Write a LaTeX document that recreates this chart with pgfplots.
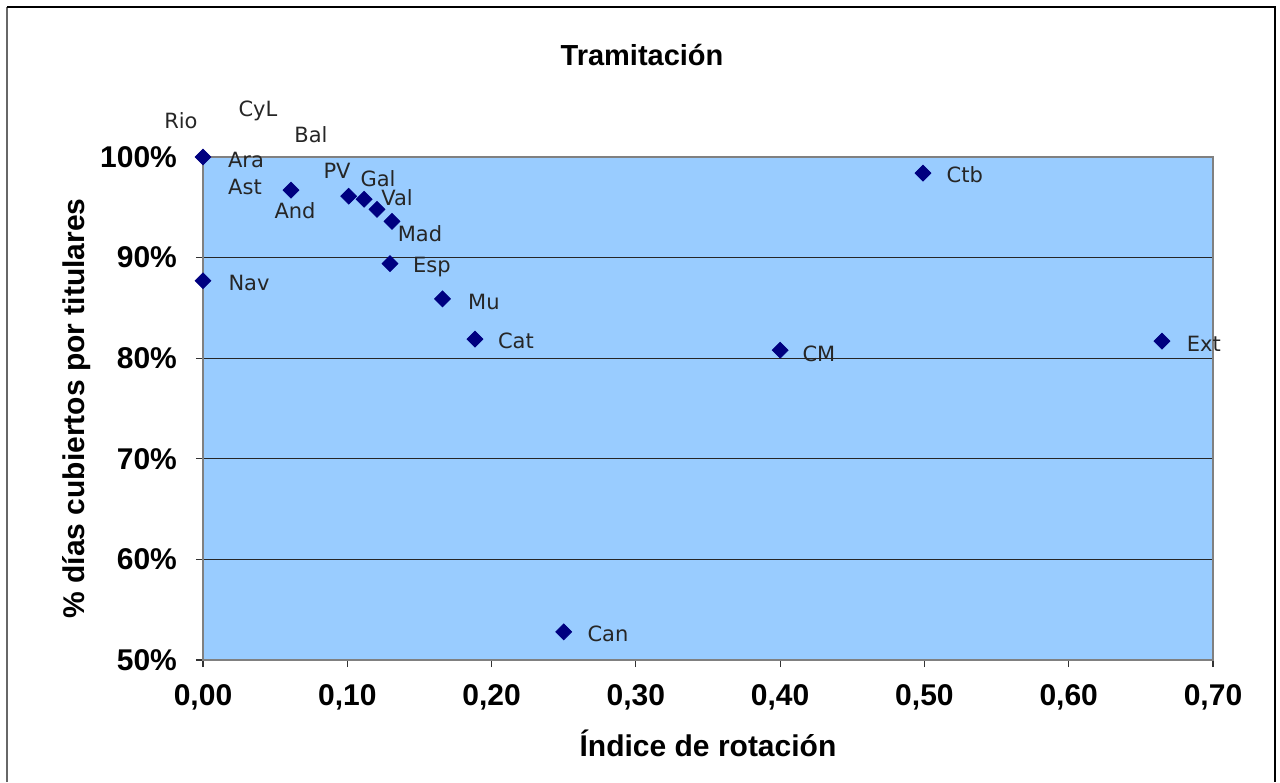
\documentclass[border=0pt]{standalone}
\usepackage{fontspec}
\setmainfont{Liberation Sans}
\newfontfamily\lblfont{DejaVu Sans}
\usepackage{pgfplots}
\pgfplotsset{compat=1.18}
\definecolor{plotbg}{HTML}{99CCFF}
\definecolor{navymk}{HTML}{000080}
\definecolor{axgray}{HTML}{808080}
\begin{document}
\begin{tikzpicture}[x=1pt,y=1pt]
\path[use as bounding box] (0,0) rectangle (640,391);
\draw[axgray!80!black,line width=1.2pt] (3.5,0) -- (3.5,387.5);
\draw[black,line width=0.8pt] (3.5,387.5) -- (637.5,387.5) -- (637.5,0);
\begin{axis}[
  at={(101.5pt,61pt)}, anchor=south west,
  width=505pt, height=251.5pt, scale only axis,
  xmin=0, xmax=0.70, ymin=50, ymax=100,
  xtick={0,0.1,...,0.71},
  ytick={50,60,70,80,90,100},
  axis background/.style={fill=plotbg},
  axis line style={axgray, line width=1.3pt},
  ymajorgrids, grid style={black!85, line width=0.6pt},
  tick align=outside, tick style={black!80, line width=0.6pt}, major tick length=3.5pt,
  xtick pos=bottom, ytick pos=left,
  clip=false,
  /pgf/number format/assume math mode=true,
  xticklabel={\bfseries\pgfmathprintnumber[fixed,fixed zerofill,precision=2,use comma]{\tick}},
  yticklabel={\bfseries\pgfmathprintnumber[fixed,precision=0]{\tick}\%},
  ticklabel style={font=\fontsize{15}{17}\selectfont},
  xticklabel style={yshift=-5pt},
  yticklabel style={xshift=-6pt},
  xlabel={\bfseries Índice de rotación},
  ylabel={\bfseries \% días cubiertos por titulares},
  label style={font=\fontsize{15}{17}\selectfont},
  xlabel style={at={(axis description cs:0.5,-0.165)},anchor=center},
  ylabel style={at={(axis description cs:-0.125,0.5)},anchor=center},
  title={\bfseries Tramitación},
  title style={at={(axis description cs:0.4347,1.203)},anchor=center,yshift=-6pt,font=\fontsize{14.5}{17}\selectfont},
]
\addplot[only marks, mark=square*, mark size=2.8pt, color=navymk,
  every mark/.append style={rotate=45}] coordinates {
  (0.000,100.0) (0.061,96.7) (0.101,96.1) (0.1116,95.8) (0.1206,94.8)
  (0.131,93.6) (0.1296,89.4) (0.000,87.7) (0.166,85.9) (0.1885,81.9)
  (0.250,52.8) (0.400,80.8) (0.499,98.4) (0.6646,81.7)
};
\begin{scope}[every node/.style={font=\lblfont\fontsize{10.5}{12}\selectfont, text=black!85}]
\node at (axis cs:-0.0153,103.58) {Rio};
\node at (axis cs:0.0381,104.57) {CyL};
\node at (axis cs:0.0748,102.19) {Bal};
\node at (axis cs:0.0298,99.70) {Ara};
\node at (axis cs:0.0291,97.02) {Ast};
\node at (axis cs:0.0638,94.63) {And};
\node at (axis cs:0.0929,98.61) {PV};
\node at (axis cs:0.1213,97.81) {Gal};
\node at (axis cs:0.1345,95.92) {Val};
\node at (axis cs:0.1504,92.35) {Mad};
\node at (axis cs:0.1587,89.07) {Esp};
\node at (axis cs:0.0319,87.48) {Nav};
\node at (axis cs:0.1947,85.59) {Mu};
\node at (axis cs:0.2169,81.71) {Cat};
\node at (axis cs:0.5280,98.21) {Ctb};
\node at (axis cs:0.4269,80.42) {CM};
\node at (axis cs:0.2807,52.58) {Can};
\node at (axis cs:0.6937,81.41) {Ext};
\end{scope}
\end{axis}
\end{tikzpicture}
\end{document}
